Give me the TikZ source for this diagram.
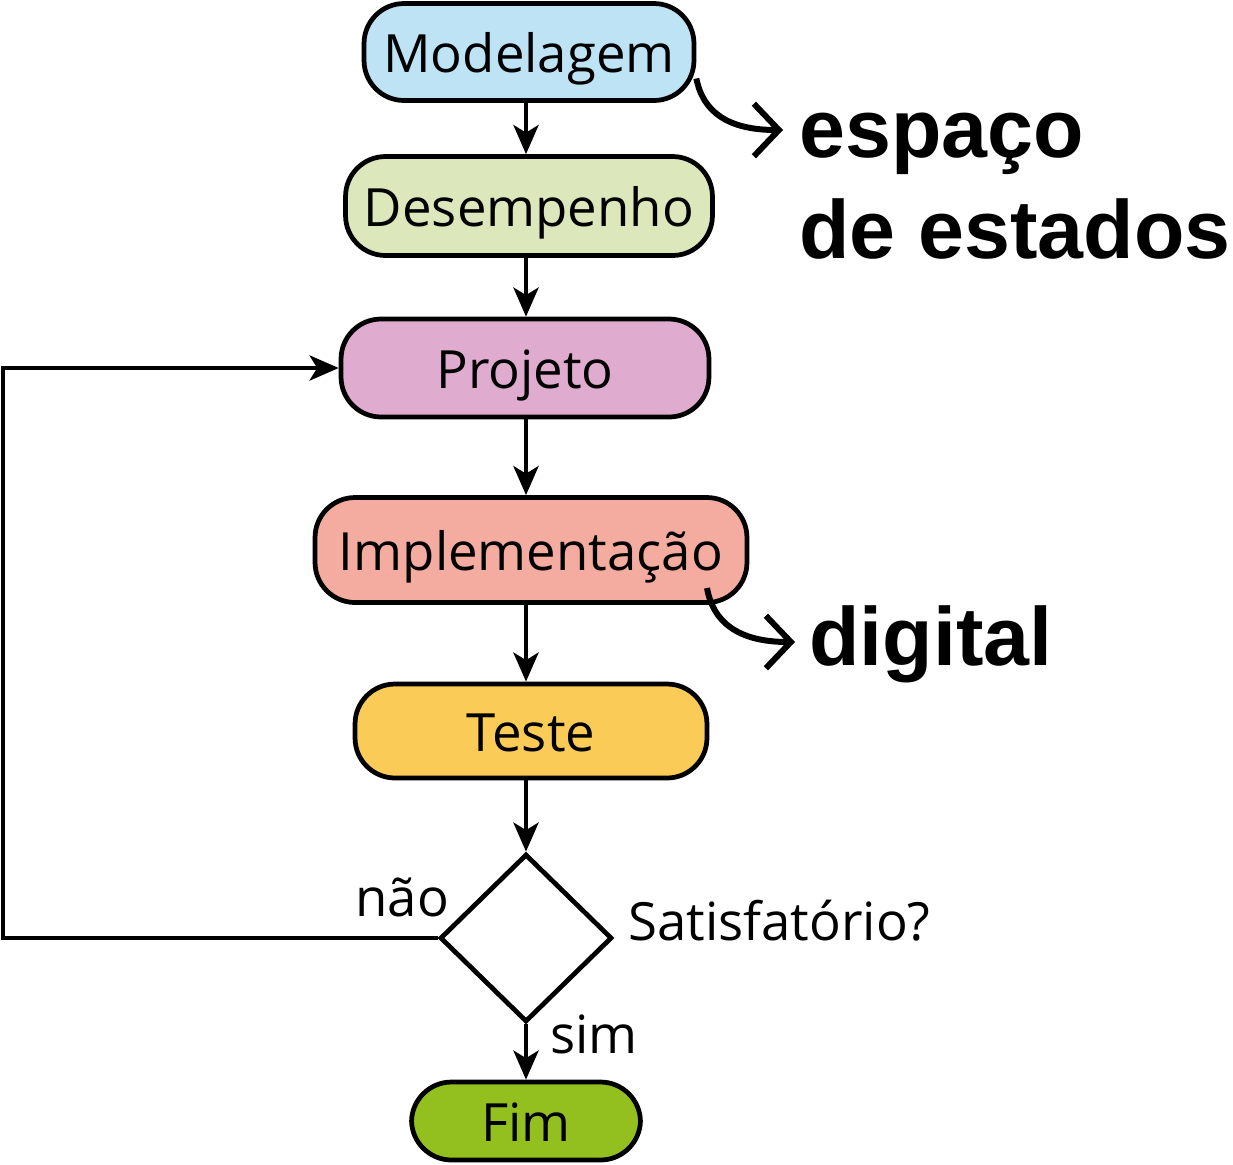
\documentclass[tikz,border=0pt]{standalone}
\usepackage{fontspec}
\setmainfont{Open Sans}
\newfontfamily\notefont{Liberation Sans}
\usetikzlibrary{shapes.geometric,arrows.meta}

\definecolor{modelblue}{HTML}{BEE3F5}
\definecolor{desgreen}{HTML}{DCE8BB}
\definecolor{projpink}{HTML}{DFABCE}
\definecolor{implred}{HTML}{F5ACA0}
\definecolor{testyellow}{HTML}{FBCB57}
\definecolor{fimgreen}{HTML}{93C01F}

\begin{document}
\begin{tikzpicture}[x=0.02cm,y=-0.02cm,
    stagebox/.style={rectangle, rounded corners=0.8cm, draw, line width=2.7pt, inner sep=0pt, text height=0.8cm, text depth=0cm, font=\fontsize{30}{36}\selectfont},
    flow/.style={-{Stealth[length=0.58cm, width=0.5cm, inset=0.15cm]}, line width=2.8pt},
    note/.style={-{Straight Barb[length=0.5cm, width=1.05cm]}, line width=3.4pt},
    bigword/.style={anchor=base west, inner sep=0pt, font=\notefont\bfseries\fontsize{47}{56}\selectfont},
    smallword/.style={anchor=base west, inner sep=0pt, font=\fontsize{30}{36}\selectfont}]
      \useasboundingbox (0,0) rectangle (1233,1164);

      % Nodes
      \node (model) at (529,52) [stagebox, fill=modelblue, minimum width=6.6cm, minimum height=1.94cm] {Modelagem};
      \node (desemp) at (529,206) [stagebox, fill=desgreen, minimum width=7.34cm, minimum height=1.98cm] {Desempenho};
      \node (proj) at (525,368) [stagebox, fill=projpink, minimum width=7.36cm, minimum height=1.96cm] {Projeto};
      \node (impl) at (531,550) [stagebox, fill=implred, minimum width=8.64cm, minimum height=2.1cm] {Implementação};
      \node (teste) at (531,731) [stagebox, fill=testyellow, minimum width=7.04cm, minimum height=1.88cm] {Teste};
      \node (check) at (526,938) [diamond, draw, line width=2.7pt, inner sep=0pt, minimum width=3.44cm, minimum height=3.36cm] {};
      \node (fim) at (526,1121) [stagebox, fill=fimgreen, minimum width=4.58cm, minimum height=1.56cm] {Fim};

      \node (espaco) at (799,157) [bigword] {espaço};
      \node (estados) at (799,258) [bigword] {de estados};
      \node (digital) at (809,665) [bigword] {digital};
      \node (satisf) at (628,940) [smallword] {Satisfatório?};
      \node (nao) at (355,916) [smallword] {não};
      \node (sim) at (550,1053) [smallword] {sim};

      \coordinate (loopcorner) at (3,938);
      \coordinate (espacotip) at (783,130);
      \coordinate (digstart) at (707,588);
      \coordinate (digtip) at (795,642);

      % Edges
      \draw[flow] (model.south -| check.north) -- (desemp.north -| check.north);
      \draw[flow] (desemp.south -| check.north) -- (proj.north -| check.north);
      \draw[flow] (proj.south -| check.north) -- (impl.north -| check.north);
      \draw[flow] (impl.south -| check.north) -- (teste.north -| check.north);
      \draw[flow] (teste.south -| check.north) -- (check.north);
      \draw[flow] (check.south) -- (fim.north -| check.south);
      \draw[flow] (check.west) -- (loopcorner) |- (proj.west);

      \draw[note] (model.-9) .. controls (703,112) and (728,130) .. (espacotip);
      \draw[note] (digstart) .. controls (713,622) and (738,642) .. (digtip);
    \end{tikzpicture}
\end{document}
